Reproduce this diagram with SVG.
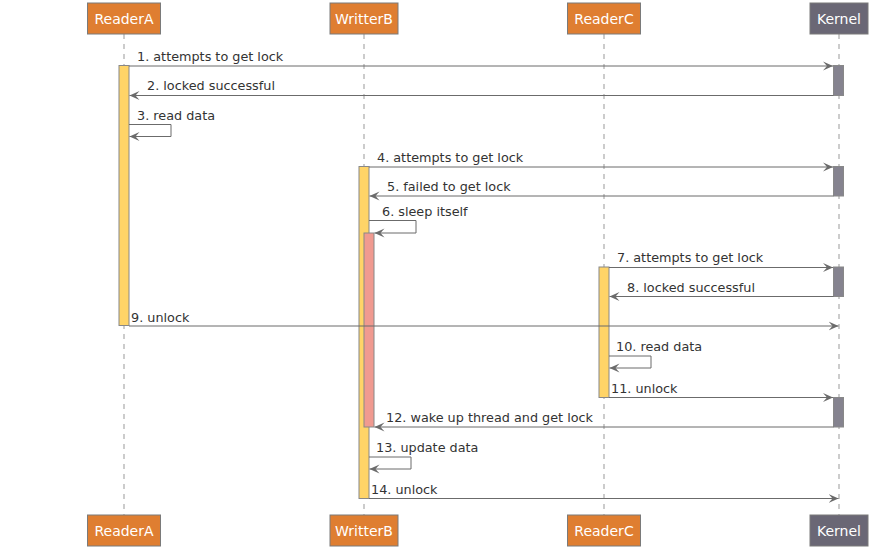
<svg xmlns="http://www.w3.org/2000/svg" width="879" height="557" viewBox="0 0 879 557">
<defs>
<style>
.life{stroke:#999;stroke-width:1;stroke-dasharray:5,5;fill:none}
.pbox{fill:#DF7E31;stroke:#7a7a7a;stroke-width:1}
.kbox{fill:#6A6775;stroke:#7a7a7a;stroke-width:1}
.ptxt{font-family:"DejaVu Sans",sans-serif;font-size:14px;fill:#fff;text-anchor:middle}
.act{fill:#FFD467;stroke:#888;stroke-width:1}
.pink{fill:#F09A90;stroke:#888;stroke-width:1}
.kact{fill:#85838F;stroke:#888;stroke-width:1}
.msg{stroke:#6b6b6b;stroke-width:1;fill:none;marker-end:url(#arr)}
.lbl{font-family:"DejaVu Sans",sans-serif;font-size:12.8px;fill:#333}
</style>
<marker id="arr" markerUnits="userSpaceOnUse" markerWidth="12" markerHeight="10" refX="10" refY="5" orient="auto" viewBox="0 0 12 10">
<path d="M0,0.5 L10,5 L0,9.5 L4,5 Z" fill="#6b6b6b"/>
</marker>
</defs>
<rect width="879" height="557" fill="#fff"/>

<g id="lifelines">
<line class="life" x1="124" y1="34" x2="124" y2="515"/>
<line class="life" x1="364" y1="34" x2="364" y2="515"/>
<line class="life" x1="604" y1="34" x2="604" y2="515"/>
<line class="life" x1="839" y1="34" x2="839" y2="515"/>
</g>

<g id="ReaderA">
<rect class="pbox" x="87.5" y="3" width="73" height="31"/>
<text class="ptxt" x="124" y="24">ReaderA</text>
<rect class="pbox" x="87.5" y="515" width="73" height="31"/>
<text class="ptxt" x="124" y="536">ReaderA</text>
</g>
<g id="WritterB">
<rect class="pbox" x="330" y="3" width="68" height="31"/>
<text class="ptxt" x="364" y="24">WritterB</text>
<rect class="pbox" x="330" y="515" width="68" height="31"/>
<text class="ptxt" x="364" y="536">WritterB</text>
</g>
<g id="ReaderC">
<rect class="pbox" x="567.5" y="3" width="73" height="31"/>
<text class="ptxt" x="604" y="24">ReaderC</text>
<rect class="pbox" x="567.5" y="515" width="73" height="31"/>
<text class="ptxt" x="604" y="536">ReaderC</text>
</g>
<g id="Kernel">
<rect class="kbox" x="810" y="3" width="58" height="31"/>
<text class="ptxt" x="839" y="24">Kernel</text>
<rect class="kbox" x="810" y="515" width="58" height="31"/>
<text class="ptxt" x="839" y="536">Kernel</text>
</g>

<g id="activations">
<rect class="act" x="119" y="65.5" width="10" height="260"/>
<rect class="act" x="359" y="166.5" width="10" height="332"/>
<rect class="pink" x="364" y="233" width="10" height="194"/>
<rect class="act" x="599" y="267" width="10" height="130.5"/>
<rect class="kact" x="833.5" y="65.5" width="10" height="30"/>
<rect class="kact" x="833.5" y="166.5" width="10" height="29.5"/>
<rect class="kact" x="833.5" y="267" width="10" height="29.5"/>
<rect class="kact" x="833.5" y="397.5" width="10" height="29.5"/>
</g>

<g id="connectors">
<line class="msg" x1="129" y1="66" x2="833" y2="66"/>
<line class="msg" x1="833.5" y1="95.5" x2="129.5" y2="95.5"/>
<path class="msg" d="M129,124.5 H171 V136.5 H129.5"/>
<line class="msg" x1="369" y1="167" x2="833" y2="167"/>
<line class="msg" x1="833.5" y1="196" x2="369.5" y2="196"/>
<path class="msg" d="M369,220.5 H416 V233 H374.5"/>
<line class="msg" x1="609" y1="267.5" x2="833" y2="267.5"/>
<line class="msg" x1="833.5" y1="296.5" x2="609.5" y2="296.5"/>
<line class="msg" x1="129" y1="326" x2="838.5" y2="326"/>
<path class="msg" d="M609,356 H651 V368 H609.5"/>
<line class="msg" x1="609" y1="397.5" x2="833" y2="397.5"/>
<line class="msg" x1="833.5" y1="427" x2="374.5" y2="427"/>
<path class="msg" d="M369,457 H411 V469 H369.5"/>
<line class="msg" x1="369" y1="498.5" x2="838.5" y2="498.5"/>
</g>

<g id="labels">
<text class="lbl" x="137" y="61">1. attempts to get lock</text>
<text class="lbl" x="147" y="90">2. locked successful</text>
<text class="lbl" x="137" y="120">3. read data</text>
<text class="lbl" x="377" y="162">4. attempts to get lock</text>
<text class="lbl" x="387" y="191">5. failed to get lock</text>
<text class="lbl" x="382" y="216">6. sleep itself</text>
<text class="lbl" x="617" y="262">7. attempts to get lock</text>
<text class="lbl" x="627" y="292">8. locked successful</text>
<text class="lbl" x="131" y="322">9. unlock</text>
<text class="lbl" x="616" y="351">10. read data</text>
<text class="lbl" x="611" y="393">11. unlock</text>
<text class="lbl" x="386" y="422">12. wake up thread and get lock</text>
<text class="lbl" x="376" y="452">13. update data</text>
<text class="lbl" x="371" y="494">14. unlock</text>
</g>
</svg>
